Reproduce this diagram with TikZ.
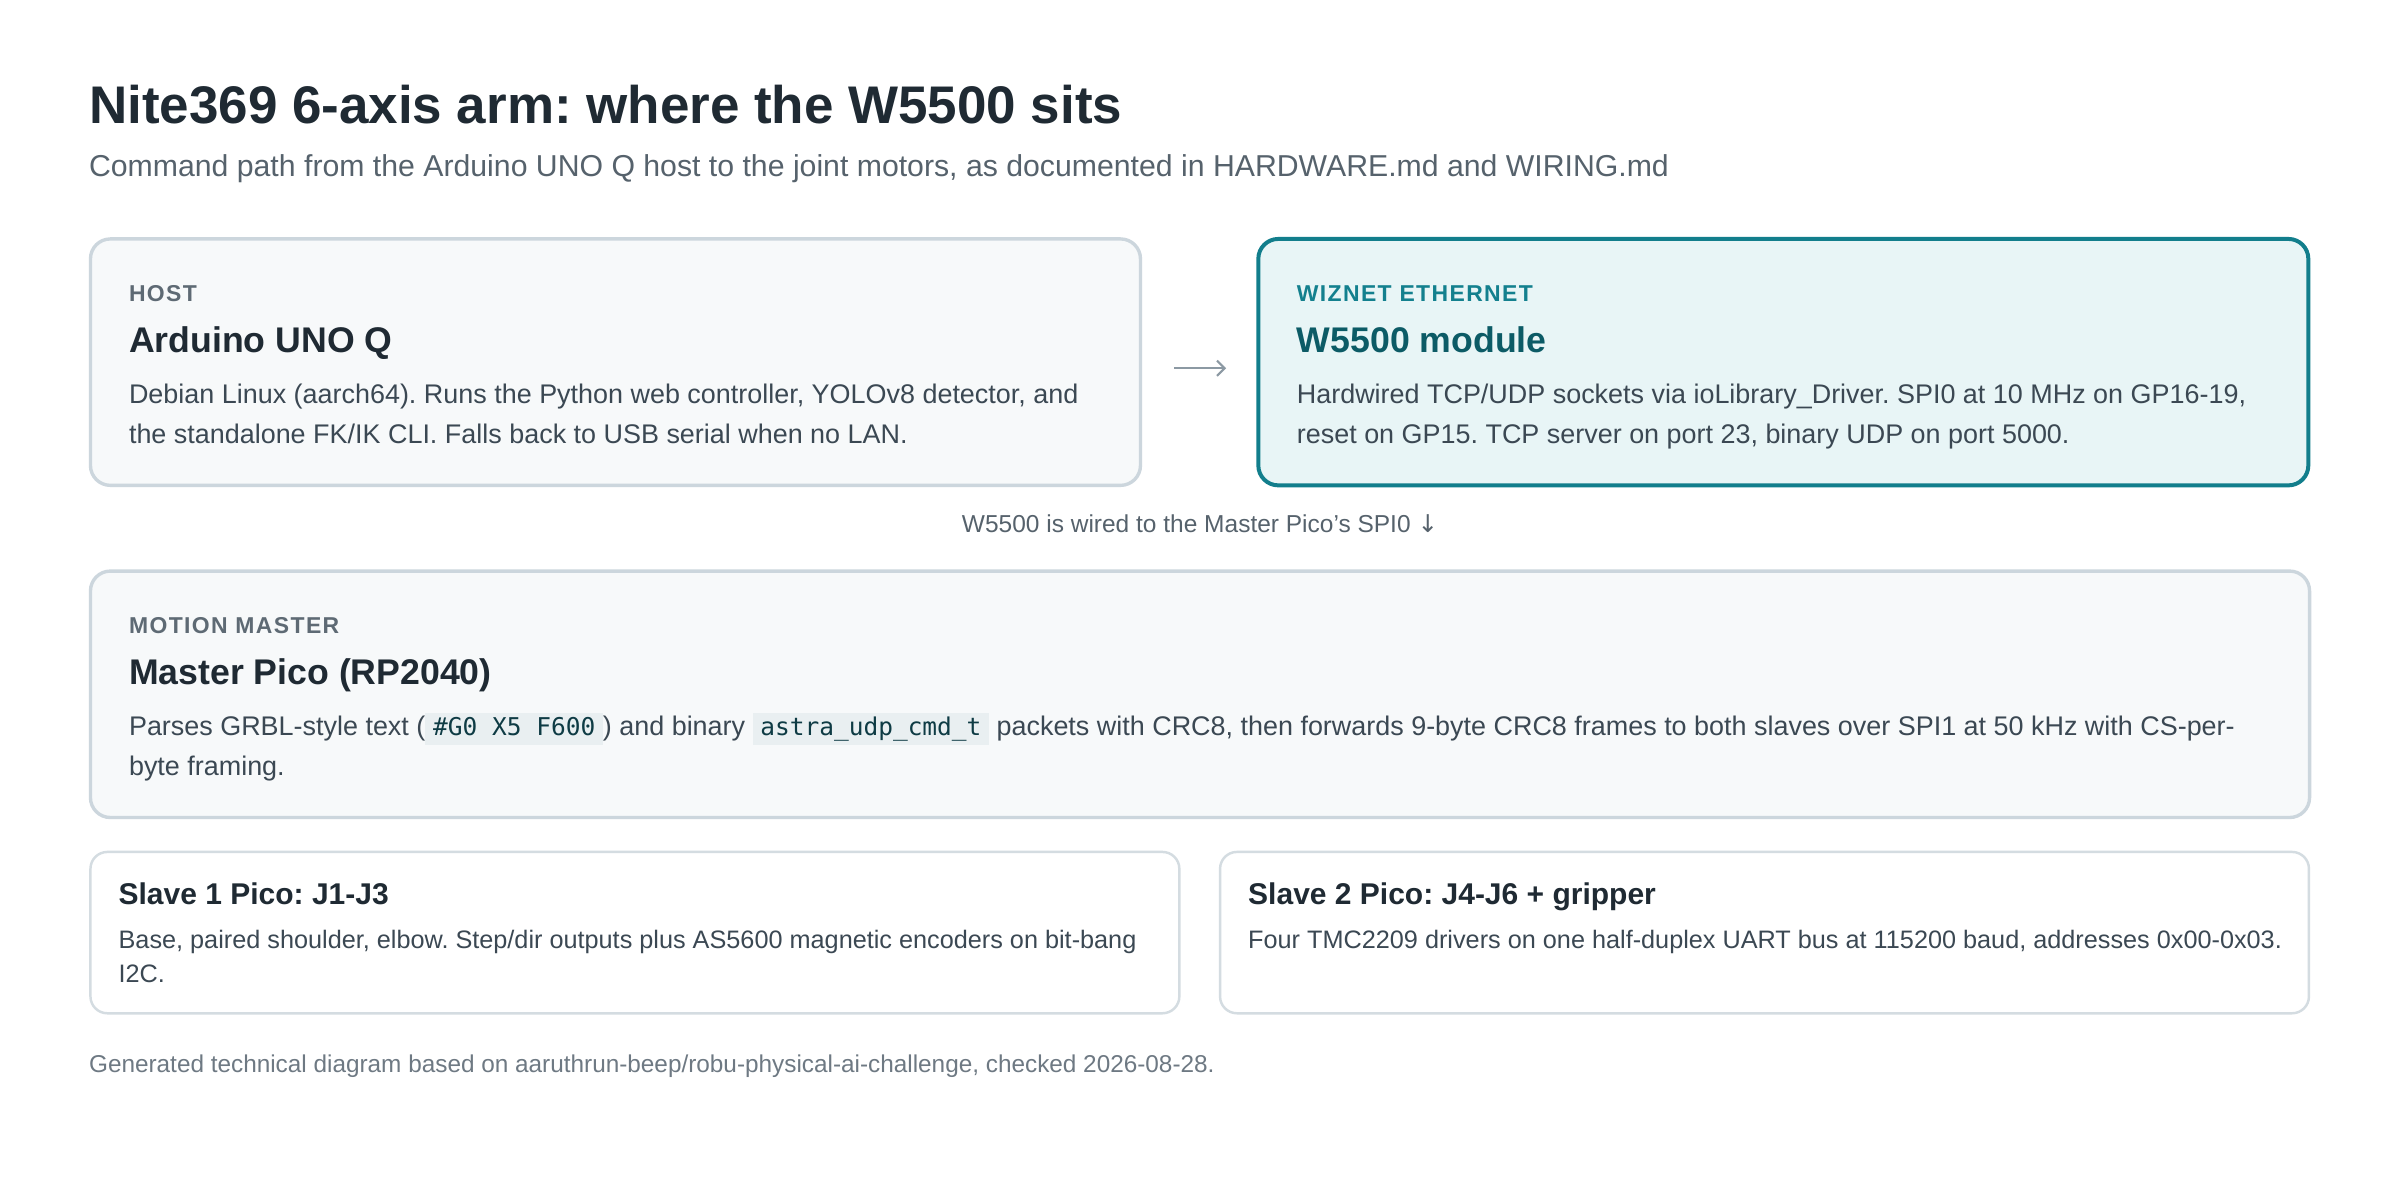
\documentclass[tikz,border=0pt]{standalone}
\usepackage{fontspec}
\setmainfont{Liberation Sans}
\newfontfamily\codefont{DejaVu Sans Mono}
\newfontfamily\arrowfont{DejaVu Sans}
\usetikzlibrary{positioning, arrows.meta}

\definecolor{ink}{HTML}{1F2A33}
\definecolor{subgray}{HTML}{56626C}
\definecolor{eyebrowgray}{HTML}{5E6A74}
\definecolor{bodygray}{HTML}{3B4853}
\definecolor{cardline}{HTML}{CCD6DD}
\definecolor{cardfill}{HTML}{F7F9FA}
\definecolor{tealline}{HTML}{127E8C}
\definecolor{tealfill}{HTML}{E8F5F6}
\definecolor{tealtext}{HTML}{13808E}
\definecolor{tealdark}{HTML}{0C5B66}
\definecolor{slaveline}{HTML}{D4DCE1}
\definecolor{arrowgray}{HTML}{8C99A3}
\definecolor{footgray}{HTML}{6E7983}
\definecolor{chipfill}{HTML}{E9EFF1}
\definecolor{chiptext}{HTML}{0E3B44}

\newcommand{\chip}[1]{{\setlength{\fboxsep}{0pt}\colorbox{chipfill}{\rule[-6pt]{0pt}{21pt}\hspace{5pt}{\codefont\fontsize{16}{18}\selectfont\color{chiptext}#1}\hspace{5pt}}}}
\newcommand{\twolines}[2]{\vtop{\hbox{#1}\hbox{#2}}}

\begin{document}
\frenchspacing
\begin{tikzpicture}[x=1pt, y=1pt, node distance=77pt,
    >={Straight Barb[length=5pt, width=10pt]},
    card/.style={draw=cardline, line width=2.2pt, fill=cardfill, rounded corners=13pt, inner sep=0pt, outer sep=0pt, minimum width=686pt, minimum height=161pt},
    wizcard/.style={card, draw=tealline, fill=tealfill, line width=2.6pt},
    slavecard/.style={card, draw=slaveline, fill=white, line width=1.6pt, rounded corners=11pt, minimum width=711.4pt, minimum height=105.4pt},
    title/.style={anchor=base west, inner sep=0pt, text=ink, font=\bfseries\fontsize{34.6}{40}\selectfont},
    subtitle/.style={anchor=base west, inner sep=0pt, text=subgray, font=\fontsize{19.75}{23}\selectfont},
    eyebrow/.style={anchor=base west, inner sep=0pt, text=eyebrowgray, font=\bfseries\fontsize{15}{18}\selectfont\addfontfeatures{LetterSpace=6}},
    heading/.style={anchor=base west, inner sep=0pt, text=ink, font=\bfseries\fontsize{23.3}{28}\selectfont},
    body/.style={anchor=base west, inner sep=0pt, text=bodygray, font=\fontsize{17.6}{26}\selectfont},
    slavehead/.style={heading, font=\bfseries\fontsize{19.6}{23}\selectfont},
    slavebody/.style={body, font=\fontsize{16.5}{22}\selectfont},
    note/.style={anchor=base, inner sep=0pt, text=subgray, font=\fontsize{16}{19}\selectfont},
    footer/.style={anchor=base west, inner sep=0pt, text=footgray, font=\fontsize{15.9}{18}\selectfont},
    flow/.style={->, draw=arrowgray, line width=1.4pt, shorten <=22pt, shorten >=21pt}]

\useasboundingbox[fill=white] (0,0) rectangle (1568,-784);

\node[title] (title) at (58,-81) {Nite369 6-axis arm: where the W5500 sits};
\node[subtitle] (subtitle) at (58,-115.5) {Command path from the Arduino UNO Q host to the joint motors, as documented in HARDWARE.md and WIRING.md};

% top row: host and ethernet module
\node[card, anchor=north west] (host) at (59.1,-156.1) {};
\node[wizcard, right=of host] (wiz) {};
\node[eyebrow] (hostkind) at ([shift={(25,-41)}]host.north west) {HOST};
\node[heading] (hostname) at ([shift={(25,-74)}]host.north west) {Arduino UNO Q};
\node[body] (hostnote) at ([shift={(25,-107.5)}]host.north west) {\twolines{Debian Linux (aarch64). Runs the Python web controller, YOLOv8 detector, and}{the standalone FK/IK CLI. Falls back to USB serial when no LAN.}};
\node[eyebrow, text=tealtext] (wizkind) at ([shift={(25,-41)}]wiz.north west) {WIZNET ETHERNET};
\node[heading, text=tealdark] (wizname) at ([shift={(25,-74)}]wiz.north west) {W5500 module};
\node[body] (wiznote) at ([shift={(25,-107.5)}]wiz.north west) {\twolines{Hardwired TCP/UDP sockets via ioLibrary\_Driver. SPI0 at 10 MHz on GP16-19,}{reset on GP15. TCP server on port 23, binary UDP on port 5000.}};
\draw[flow] ([yshift=-4]host.east) -- ([yshift=-4]wiz.west);

\node[note] (wirenote) at (784,-348) {W5500 is wired to the Master Pico's SPI0 {\arrowfont ↓}};

% motion master
\node[card, minimum width=1449.8pt, below right=56pt and 0pt of host.south west] (master) {};
\node[eyebrow] (masterkind) at ([shift={(25,-41)}]master.north west) {MOTION MASTER};
\node[heading] (mastername) at ([shift={(25,-74)}]master.north west) {Master Pico (RP2040)};
\node[body] (masternote) at ([shift={(25,-107.5)}]master.north west) {\twolines{Parses GRBL-style text (\chip{\#G0 X5 F600}) and binary \chip{astra\_udp\_cmd\_t} packets with CRC8, then forwards 9-byte CRC8 frames to both slaves over SPI1 at 50 kHz with CS-per-}{byte framing.}};

% slaves
\node[slavecard, below right=22.5pt and 0pt of master.south west] (slave1) {};
\node[slavecard, right=26.6pt of slave1] (slave2) {};
\node[slavehead] (slave1name) at ([shift={(18.2,-34.5)}]slave1.north west) {Slave 1 Pico: J1-J3};
\node[slavebody] (slave1note) at ([shift={(18.2,-63)}]slave1.north west) {\twolines{Base, paired shoulder, elbow. Step/dir outputs plus AS5600 magnetic encoders on bit-bang}{I2C.}};
\node[slavehead] (slave2name) at ([shift={(18.2,-34.5)}]slave2.north west) {Slave 2 Pico: J4-J6 + gripper};
\node[slavebody] (slave2note) at ([shift={(18.2,-63)}]slave2.north west) {Four TMC2209 drivers on one half-duplex UART bus at 115200 baud, addresses 0x00-0x03.};

\node[footer] (footer) at (58,-701) {Generated technical diagram based on aaruthrun-beep/robu-physical-ai-challenge, checked 2026-08-28.};
\end{tikzpicture}
\end{document}
